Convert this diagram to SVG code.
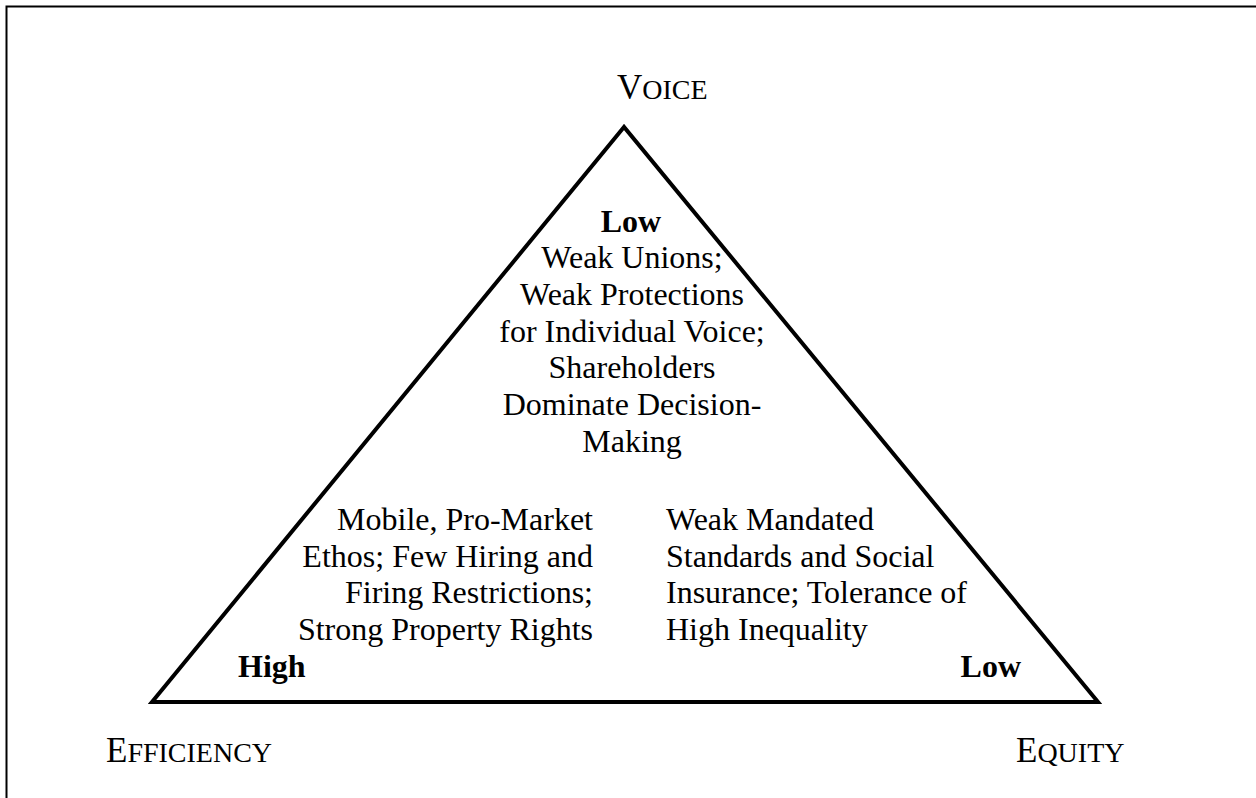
<svg xmlns="http://www.w3.org/2000/svg" width="1256" height="798" viewBox="0 0 1256 798">
<style>
text{font-family:"Liberation Serif","Times New Roman",serif;fill:#000}
.t{font-size:32px}
.b{font-size:32px;font-weight:bold}
.big{font-size:35px}
.sm{font-size:28px}
.c{text-anchor:middle}
.r{text-anchor:end}
</style>
<rect x="6.5" y="6.5" width="1300" height="850" fill="#fff" stroke="#000" stroke-width="2"/>
<g id="connectors">
<polygon points="624,127 152,702 1098,702" fill="none" stroke="#000" stroke-width="4" stroke-linejoin="miter"/>
</g>
<g id="voice">
<text x="617" y="99"><tspan class="big">V</tspan><tspan class="sm">OICE</tspan></text>
</g>
<g id="efficiency">
<text x="106" y="762"><tspan class="big">E</tspan><tspan class="sm">FFICIENCY</tspan></text>
</g>
<g id="equity">
<text x="1016" y="762"><tspan class="big">E</tspan><tspan class="sm">QUITY</tspan></text>
</g>
<g id="voice-low">
<text class="b c" x="631" y="232">Low</text>
<text class="t c" x="632" y="268.3">Weak Unions;</text>
<text class="t c" x="632" y="305">Weak Protections</text>
<text class="t c" x="632" y="341.7">for Individual Voice;</text>
<text class="t c" x="632" y="378.4">Shareholders</text>
<text class="t c" x="632" y="415.1">Dominate Decision-</text>
<text class="t c" x="632" y="451.8">Making</text>
</g>
<g id="efficiency-high">
<text class="t r" x="593" y="530">Mobile, Pro-Market</text>
<text class="t r" x="593" y="566.7">Ethos; Few Hiring and</text>
<text class="t r" x="593" y="603.4">Firing Restrictions;</text>
<text class="t r" x="593" y="640.1">Strong Property Rights</text>
<text class="b" x="238" y="676.8">High</text>
</g>
<g id="equity-low">
<text class="t" x="666" y="530">Weak Mandated</text>
<text class="t" x="666" y="566.7">Standards and Social</text>
<text class="t" x="666" y="603.4">Insurance; Tolerance of</text>
<text class="t" x="666" y="640.1">High Inequality</text>
<text class="b r" x="1021" y="676.8">Low</text>
</g>
</svg>
